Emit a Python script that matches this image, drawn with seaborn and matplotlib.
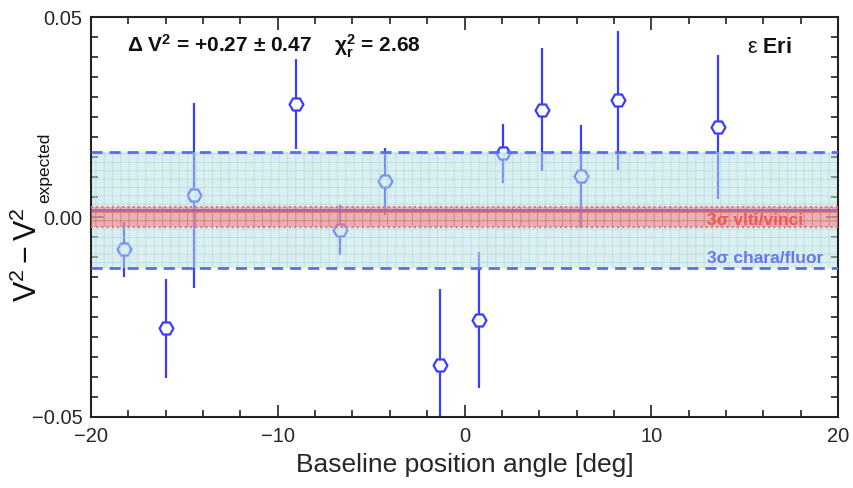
import matplotlib
matplotlib.use("Agg")
import matplotlib.pyplot as plt
import seaborn as sns
import numpy as np
import pandas as pd
from matplotlib.ticker import MultipleLocator

# ---- data ----
position_angle = [-18.25, -16.0, -14.5, -9.0, -6.65, -4.25, -1.3, 0.8, 2.05, 4.15, 6.25, 8.2, 13.55]
delta_v2 = [-0.0081, -0.0278, 0.0054, 0.0282, -0.0033, 0.0089, -0.0370, -0.0258, 0.0159, 0.0268, 0.0102, 0.0292, 0.0226]
delta_v2_err = [0.0069, 0.0124, 0.0232, 0.0113, 0.0062, 0.0084, 0.0189, 0.0170, 0.0073, 0.0154, 0.0129, 0.0174, 0.0180]

chara_band = [-0.0128, 0.0162]   # 3 sigma chara/fluor band
chara_center = 0.0017
vlti_band = [-0.0026, 0.0026]    # 3 sigma vlti/vinci band
x_range = [-20, 20]
y_range = [-0.05, 0.05]
x_ticks = [-20, -10, 0, 10, 20]
y_ticks = [-0.05, 0.0, 0.05]

df = pd.DataFrame({"pa": position_angle, "dv2": delta_v2, "err": delta_v2_err})

sns.set_theme(style="ticks")
plt.rcParams["font.family"] = ["Liberation Sans", "DejaVu Sans"]
plt.rcParams["mathtext.fontset"] = "custom"
plt.rcParams["mathtext.rm"] = "Liberation Sans"
plt.rcParams["mathtext.it"] = "Liberation Sans:italic"
plt.rcParams["mathtext.bf"] = "Liberation Sans:bold"
plt.rcParams["hatch.linewidth"] = 0.7

W, H = 854, 488
fig = plt.figure(figsize=(W / 100, H / 100), dpi=100)
ax = fig.add_axes([0.1066, 0.1455, 0.8747, 0.8195])

blue = "#3a3cff"
ax.errorbar(df["pa"], df["dv2"], yerr=df["err"], fmt="none", ecolor=blue,
            elinewidth=1.6, capsize=0, zorder=1)
sns.scatterplot(data=df, x="pa", y="dv2", ax=ax, marker="H", s=100,
                facecolor="white", edgecolor=blue, linewidth=1.6, zorder=1.5,
                legend=False)

# cyan chara band
ax.fill_between(x_range, chara_band[0], chara_band[1], facecolor="#b9e1e5",
                edgecolor="#9fd4d9", hatch="++", linewidth=0, alpha=0.5, zorder=2)
ax.axhline(chara_center, color="#4a5cf0", lw=2.0, zorder=2.4)
for yv in chara_band:
    ax.axhline(yv, color="#5a6cf2", lw=2.0, ls=(0, (4, 2.5)), zorder=3.5)

# red vlti band
ax.fill_between(x_range, vlti_band[0], vlti_band[1], facecolor="#f07878",
                edgecolor="#ee5050", hatch="++", linewidth=0, alpha=0.5, zorder=3)
for yv in vlti_band:
    ax.axhline(yv, color="#f07070", lw=1.5, ls=(0, (1, 1.5)), zorder=3.2)

ax.text(13.0, -0.0008, "3σ vlti/vinci", color="#ec5858", fontsize=12.5,
        fontweight="bold", ha="left", va="center", zorder=4)
ax.text(13.0, -0.0103, "3σ chara/fluor", color="#6676ee", fontsize=12.5,
        fontweight="bold", ha="left", va="center", zorder=4)

ax.text(-18.05, 0.0428,
        r"Δ $\mathbf{V}^{\mathbf{2}}$ = +0.27 ± 0.47    χ$^{\mathbf{2}}_{\mathbf{r}}$ = 2.68",
        fontsize=15, fontweight="bold", ha="left", va="center", color="#111111", zorder=5)
ax.text(17.5, 0.0423, r"ε $\mathbf{Eri}$", fontsize=15.5, ha="right", va="center",
        color="#111111", zorder=5)

ax.set_xlim(*x_range)
ax.set_ylim(*y_range)
ax.set_xticks(x_ticks)
ax.set_yticks(y_ticks)
ax.xaxis.set_minor_locator(MultipleLocator(2))
ax.yaxis.set_minor_locator(MultipleLocator(0.005))
ax.tick_params(which="both", direction="in", top=True, right=True, color="#222222",
               labelsize=14.5, width=1.2)
ax.tick_params(which="major", length=9)
ax.tick_params(which="minor", length=5)
ax.tick_params(axis="x", pad=7)
ax.tick_params(axis="y", pad=6)
for s in ax.spines.values():
    s.set_linewidth(1.5)
    s.set_color("#222222")

ax.set_xlabel("Baseline position angle [deg]", fontsize=19, labelpad=5)
ax.set_ylabel("")

# y label: main part plus smaller subscript, as in the reference
fig.text(37 / W, 1 - 255 / H, r"$\mathrm{V}^2 - \mathrm{V}^2$", fontsize=22,
         rotation=90, rotation_mode="anchor", ha="center", va="baseline",
         color="#111111")
fig.text(49.5 / W, 1 - 203 / H, "expected", fontsize=12.5,
         rotation=90, rotation_mode="anchor", ha="left", va="baseline",
         color="#111111")

fig.savefig("out.png", dpi=100)
